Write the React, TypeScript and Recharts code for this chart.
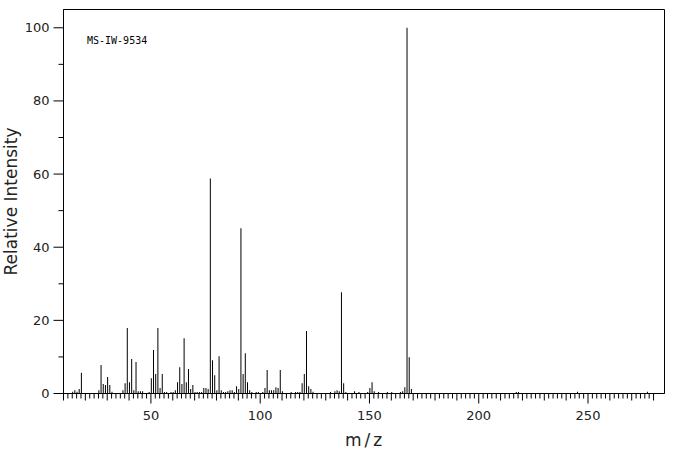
import { Bar, BarChart, Label, ReferenceArea, XAxis, YAxis } from 'recharts';

// peak positions (m/z) and relative intensities
const mz = [
  14, 15, 16, 17, 18, 26, 27, 28, 29, 30, 31, 32, 37, 38, 39, 40, 41, 42, 43, 44,
  45, 46, 49, 50, 51, 52, 53, 54, 55, 56, 57, 59, 60, 61, 62, 63, 64, 65, 66, 67,
  68, 69, 70, 71, 72, 73, 74, 75, 76, 77, 78, 79, 80, 81, 82, 83, 84, 85, 86, 87,
  88, 89, 90, 91, 92, 93, 94, 95, 96, 98, 99, 101, 102, 103, 104, 105, 106, 107, 108, 109,
  110, 114, 116, 117, 118, 119, 120, 121, 122, 123, 124, 132, 134, 135, 136, 137, 138, 139, 143, 145,
  149, 150, 151, 152, 154, 158, 160, 164, 165, 166, 167, 168, 169, 217, 218, 245, 277,
];
const intensity = [
  0.5, 0.9, 0.5, 1.2, 5.7, 0.9, 7.8, 2.6, 2.3, 4.5, 2.3, 0.5, 0.9, 2.8, 17.9, 3.1, 9.4, 0.9, 8.6, 0.6,
  0.6, 0.6, 0.4, 4.2, 11.9, 5.3, 17.9, 1.5, 5.3, 0.4, 0.4, 0.4, 0.4, 0.9, 3.1, 7.2, 2.6, 15.1, 3.1, 6.7,
  1.2, 2.3, 0.4, 0.4, 0.4, 0.4, 1.5, 1.5, 1.2, 58.8, 9.1, 5.0, 0.9, 10.2, 0.9, 0.4, 0.4, 0.6, 0.9, 0.9,
  0.4, 2.0, 1.2, 45.2, 5.3, 11.0, 3.1, 0.9, 0.4, 0.4, 0.4, 0.4, 1.5, 6.4, 0.9, 0.9, 0.9, 1.7, 1.5, 6.4,
  0.6, 0.4, 0.4, 0.4, 0.4, 2.8, 5.3, 17.1, 2.0, 1.2, 0.5, 0.4, 0.6, 0.9, 0.6, 27.7, 2.8, 0.4, 0.6, 0.4,
  0.4, 1.5, 3.1, 0.6, 0.4, 0.4, 0.4, 0.4, 0.6, 1.7, 100, 9.9, 1.2, 0.4, 0.4, 0.5, 0.5,
];

const xTicks = Array.from({ length: 136 }, (_, i) => 10 + i * 2);
const yTicks = [0, 10, 20, 30, 40, 50, 60, 70, 80, 90, 100];
const xLabels = [50, 100, 150, 200, 250];
const yLabels = [0, 20, 40, 60, 80, 100];

const data = mz.map((m, i) => ({ mz: m, intensity: intensity[i] }));

const font = '"DejaVu Sans", sans-serif';

function XTick(props: any) {
  const { x, y, payload } = props;
  const v = payload.value;
  const len = v % 50 === 0 ? 10 : v % 10 === 0 ? 7 : 5;
  return (
    <g>
      <line x1={x} y1={y} x2={x} y2={y + len} stroke="#000" />
      {xLabels.includes(v) && (
        <text x={x} y={y + 26} textAnchor="middle" fontSize={13} fontFamily={font} fill="#222">
          {v}
        </text>
      )}
    </g>
  );
}

function YTick(props: any) {
  const { x, y, payload } = props;
  const v = payload.value;
  const len = v % 20 === 0 ? 10 : 5;
  return (
    <g>
      <line x1={x} y1={y} x2={x - len} y2={y} stroke="#000" />
      {yLabels.includes(v) && (
        <text x={x - 14} y={y + 4.5} textAnchor="end" fontSize={13} fontFamily={font} fill="#222">
          {v}
        </text>
      )}
    </g>
  );
}

export default function App() {
  return (
    <div style={{ position: 'absolute', left: 0, top: 0, background: '#fff' }}>
      <BarChart
        width={676}
        height={455}
        data={data}
        margin={{ top: 9.5, right: 11.5, left: 0, bottom: 0 }}
      >
        <XAxis
          dataKey="mz"
          type="number"
          domain={[10, 285]}
          ticks={xTicks}
          interval={0}
          tickSize={0}
          tickMargin={0}
          tickLine={false}
          tick={(p: any) => <XTick {...p} />}
          height={61.5}
          axisLine={{ stroke: '#000' }}
          allowDataOverflow
        >
          <Label
            content={(p: any) => {
              const vb = p.viewBox;
              return (
                <text
                  x={vb.x + vb.width / 2 + 1}
                  y={vb.y + vb.height - 9}
                  textAnchor="middle"
                  fontSize={17}
                  letterSpacing={3}
                  fontFamily={font}
                  fill="#222"
                >
                  m/z
                </text>
              );
            }}
          />
        </XAxis>
        <YAxis
          type="number"
          domain={[0, 105]}
          ticks={yTicks}
          interval={0}
          width={63.5}
          tickSize={0}
          tickMargin={0}
          tickLine={false}
          tick={(p: any) => <YTick {...p} />}
          axisLine={{ stroke: '#000' }}
          allowDataOverflow
        >
          <Label
            content={(p: any) => {
              const vb = p.viewBox;
              const cx = vb.x + 17;
              const cy = vb.y + vb.height / 2;
              return (
                <text
                  x={cx}
                  y={cy}
                  transform={`rotate(-90 ${cx} ${cy})`}
                  textAnchor="middle"
                  fontSize={17}
                  fontFamily={font}
                  fill="#222"
                >
                  Relative Intensity
                </text>
              );
            }}
          />
        </YAxis>
        <ReferenceArea
          x1={10}
          x2={285}
          y1={0}
          y2={105}
          fill="none"
          stroke="#000"
          strokeOpacity={1}
          ifOverflow="visible"
        >
          <Label
            content={(p: any) => {
              const vb = p.viewBox;
              return (
                <text
                  x={vb.x + 23.5}
                  y={vb.y + 34.5}
                  fontSize={10}
                  fontFamily='"DejaVu Sans Mono", monospace'
                  fill="#000"
                >
                  MS-IW-9534
                </text>
              );
            }}
          />
        </ReferenceArea>
        <Bar dataKey="intensity" fill="#000" barSize={1} isAnimationActive={false} />
      </BarChart>
    </div>
  );
}
